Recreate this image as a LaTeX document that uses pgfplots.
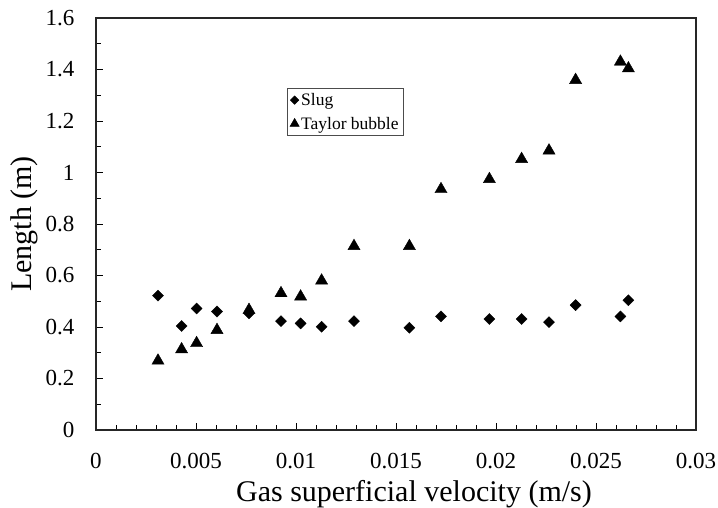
\documentclass[border=0pt]{standalone}
\usepackage{fontspec}
\setmainfont{Liberation Serif}
\usepackage{pgfplots}
\pgfplotsset{compat=1.18}

\begin{document}
\begin{tikzpicture}[x=1pt,y=1pt]
\useasboundingbox (-96,-78) rectangle (622,430);
\begin{axis}[
  scale only axis,
  width=600pt, height=412pt,
  xmin=0, xmax=0.03, ymin=0, ymax=1.6,
  axis line style={line width=1.1pt, black!85},
  scaled x ticks=false, scaled y ticks=false,
  xtick={0,0.005,0.01,0.015,0.02,0.025,0.03},
  xticklabels={0,0.005,0.01,0.015,0.02,0.025,0.03},
  ytick={0,0.2,0.4,0.6,0.8,1,1.2,1.4,1.6},
  yticklabels={0,0.2,0.4,0.6,0.8,1,1.2,1.4,1.6},
  minor x tick num=4, minor y tick num=1,
  xtick pos=bottom, ytick pos=left,
  tick align=inside,
  major tick length=7pt, minor tick length=5pt,
  tick style={line width=0.9pt, black},
  ticklabel style={font=\fontsize{23}{25}\selectfont},
  xticklabel style={yshift=-20pt},
  yticklabel style={xshift=-18pt},
  xlabel={Gas superficial velocity (m/s)},
  ylabel={Length (m)},
  label style={font=\fontsize{30}{33}\selectfont},
  xlabel style={yshift=-4pt, xshift=18pt},
  ylabel style={yshift=1pt},
  legend style={at={(0.318,0.830)}, anchor=north west,
    font=\fontsize{17.5}{19}\selectfont, draw=black!70, line width=0.6pt,
    row sep=6pt, inner sep=3pt},
  legend cell align=left,
  legend image code/.code={\draw[#1,/tikz/every mark/.append style={scale=0.75}] plot coordinates {(0pt,0pt)};},
]
\addplot[only marks, mark=square*, mark size=3.9pt, mark options={rotate=45, fill=black, draw=black}]
  coordinates {
  (0.00310,0.522) (0.00428,0.404) (0.00503,0.472) (0.00605,0.460)
  (0.00765,0.453) (0.00925,0.423) (0.01023,0.414) (0.01128,0.401)
  (0.01290,0.423) (0.01567,0.397) (0.01725,0.441) (0.01967,0.431)
  (0.02128,0.431) (0.02265,0.419) (0.02398,0.485) (0.02622,0.441)
  (0.02662,0.504)
};
\addlegendentry{Slug}
\addplot[only marks, mark=triangle*, mark size=7pt, mark options={fill=black, draw=black}]
  coordinates {
  (0.00310,0.269) (0.00428,0.313) (0.00503,0.337) (0.00605,0.388)
  (0.00765,0.466) (0.00925,0.531) (0.01023,0.518) (0.01128,0.580)
  (0.01290,0.714) (0.01567,0.714) (0.01725,0.935) (0.01967,0.974)
  (0.02128,1.052) (0.02265,1.085) (0.02398,1.359) (0.02622,1.430)
  (0.02662,1.404)
};
\addlegendentry{Taylor bubble}
\end{axis}
\end{tikzpicture}
\end{document}
